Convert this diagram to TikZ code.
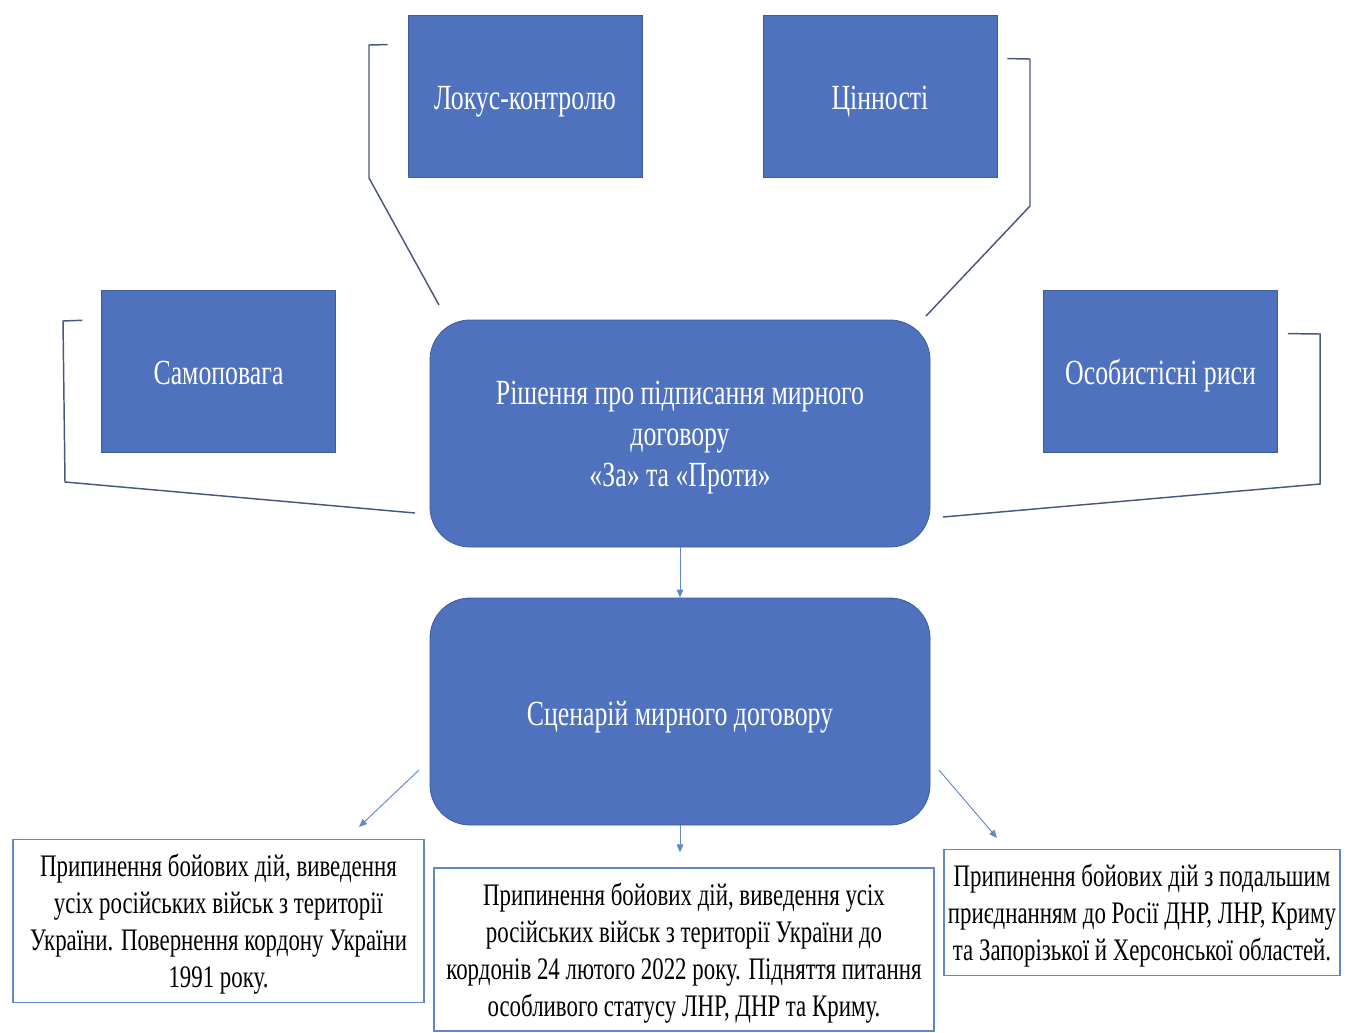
\documentclass[tikz,border=0pt]{standalone}
\usepackage{fontspec}
\setmainfont{Liberation Serif}[FakeStretch=0.73]
\usetikzlibrary{arrows.meta}

\definecolor{boxblue}{RGB}{79,114,190}
\definecolor{edgeblue}{RGB}{62,92,160}
\definecolor{linkgray}{RGB}{72,88,125}
\definecolor{arrowblue}{RGB}{96,134,205}

\tikzset{
  factor/.style={rectangle, fill=boxblue, draw=edgeblue, line width=0.6pt, text=white,
    minimum width=175.5pt, minimum height=121.5pt, inner sep=0pt, align=center,
    text height=20.5pt, text depth=0pt, font=\fontsize{26.5}{30.75}\selectfont},
  choice/.style={factor, rounded corners=30pt, minimum width=375pt, minimum height=170.25pt},
  outcome/.style={rectangle, fill=white, draw=arrowblue, line width=0.8pt, text=black,
    inner sep=0pt, align=center, font=\fontsize{23.5}{27.75}\selectfont},
  link/.style={draw=linkgray, line width=1.1pt},
  flow/.style={draw=arrowblue, line width=0.7pt, -{Triangle[length=6pt,width=5pt]}}
}

\begin{document}
\begin{tikzpicture}[x=0.75pt,y=-0.75pt]
        \useasboundingbox (0,0) rectangle (1349,1032);

        % Factors
        \node[factor] (lokus) at (525,96) {Локус-контролю};
        \node[factor] (tsinnosti) at (880,96) {Цінності};
        \node[factor] (samopovaha) at (218.5,371) {Самоповага};
        \node[factor] (rysy) at (1160.5,371) {Особистісні риси};

        % Decision and scenario
        \node[choice, text height={}, text depth=-7.5pt] (rishennya) at (680,433.5) {Рішення про підписання мирного\\договору\\«За» та «Проти»};
        \node[choice] (stsenarii) at (680,711.5) {Сценарій мирного договору};

        % Outcomes
        \node[outcome, minimum width=308.25pt, minimum height=122.25pt, text depth=0pt] (povernennya) at (218.5,921)
          {Припинення бойових дій, виведення\\усіх російських військ з території\\України. Повернення кордону України\\1991 року.};
        \node[outcome, minimum width=375pt, minimum height=122.25pt, text depth=-1.7pt] (kordony) at (684,949.5)
          {Припинення бойових дій, виведення усіх\\російських військ з території України до\\кордонів 24 лютого 2022 року. Підняття питання\\особливого статусу ЛНР, ДНР та Криму.};
        \node[outcome, minimum width=297pt, minimum height=94pt, text depth=-5.2pt] (pryiednannya) at (1142,912.5)
          {Припинення бойових дій з подальшим\\приєднанням до Росії ДНР, ЛНР, Криму\\та Запорізької й Херсонської областей.};

        % Brackets from factors to the decision
        \coordinate (lk) at (439,305);
        \coordinate (ts) at (926,316);
        \coordinate (sm) at (415,513);
        \coordinate (rs) at (943,517);
        \draw[link] ([xshift=-15pt,yshift=-22.5pt]lokus.north west) -- (369,45) -- (369,178) -- (lk);
        \draw[link] ([xshift=7.5pt,yshift=-33pt]tsinnosti.north east) -- (1030,59) -- (1030,206) -- (ts);
        \draw[link] ([xshift=-14pt,yshift=-23pt]samopovaha.north west) -- (63,321) -- (65,482) -- (sm);
        \draw[link] ([xshift=7.5pt,yshift=-33pt]rysy.north east) -- (1320,334) -- (1320,484) -- (rs);

        % Arrows
        \draw[flow] (rishennya) -- (stsenarii);
        \coordinate (ls) at (419,770);
        \coordinate (rs2) at (939,770);
        \coordinate (le) at (359,827);
        \coordinate (re) at (997,838);
        \draw[flow] (ls) -- (le);
        \draw[flow] (rs2) -- (re);
        \draw[flow] (stsenarii.south) -- ++(0,27);
    \end{tikzpicture}
\end{document}
